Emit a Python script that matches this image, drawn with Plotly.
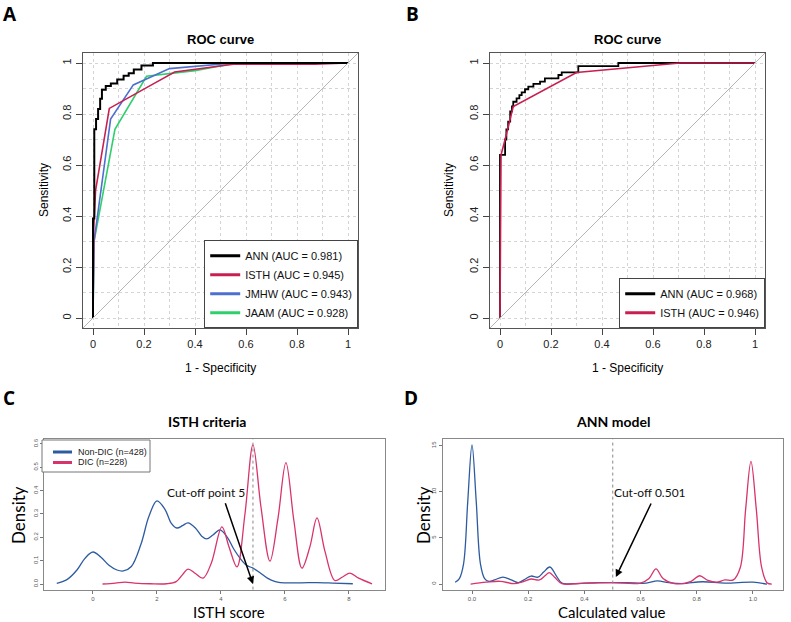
import plotly.graph_objects as go

W, H = 791, 622

# ---------------- Data ----------------
# Panel A: ROC curves (1 - specificity, sensitivity)
ann_a_fpr = [0, 0, 0.005, 0.012, 0.02, 0.028, 0.035, 0.05, 0.07, 0.095, 0.12, 0.14, 0.16, 0.19, 0.235, 1.0]
ann_a_tpr = [0, 0.39, 0.74, 0.78, 0.82, 0.86, 0.895, 0.91, 0.92, 0.935, 0.95, 0.96, 0.975, 0.99, 1.0, 1.0]
isth_a_fpr = [0, 0.003, 0.01, 0.064, 0.24, 0.32, 0.55, 0.87, 1.0]
isth_a_tpr = [0, 0.35, 0.5, 0.822, 0.92, 0.965, 0.995, 0.995, 1.0]
jmhw_a_fpr = [0, 0.004, 0.069, 0.158, 0.30, 0.55, 1.0]
jmhw_a_tpr = [0, 0.3, 0.78, 0.914, 0.978, 1.0, 1.0]
jaam_a_fpr = [0, 0.004, 0.086, 0.21, 0.40, 0.55, 1.0]
jaam_a_tpr = [0, 0.3, 0.74, 0.948, 0.97, 0.998, 1.0]
legend_a = ["ANN (AUC = 0.981)", "ISTH (AUC = 0.945)", "JMHW (AUC = 0.943)", "JAAM (AUC = 0.928)"]

# Panel B: ROC curves
ann_b_fpr = [0, 0, 0.02, 0.025, 0.032, 0.04, 0.047, 0.052, 0.065, 0.076, 0.085, 0.098, 0.111,
             0.131, 0.157, 0.176, 0.229, 0.242, 0.307, 0.464, 1.0]
ann_b_tpr = [0, 0.64, 0.70, 0.74, 0.77, 0.81, 0.83, 0.848, 0.861, 0.874, 0.885, 0.897, 0.907,
             0.918, 0.927, 0.94, 0.953, 0.963, 0.988, 1.0, 1.0]
isth_b_fpr = [0, 0.004, 0.02, 0.035, 0.052, 0.30, 0.706, 1.0]
isth_b_tpr = [0, 0.64, 0.70, 0.76, 0.829, 0.963, 1.0, 1.0]
legend_b = ["ANN (AUC = 0.968)", "ISTH (AUC = 0.946)"]

# Panel C: density of ISTH score
c_non_x = [-1.13, -0.8, -0.5, -0.25, 0, 0.25, 0.5, 0.75, 0.95, 1.2, 1.5, 1.75, 2.0, 2.25, 2.45, 2.62,
           2.8, 2.97, 3.2, 3.4, 3.55, 3.75, 3.97, 4.2, 4.4, 4.6, 4.8, 5.0, 5.2, 5.45, 5.7, 5.85,
           6.5, 7.0, 7.5, 8.12]
c_non_y = [0.003, 0.02, 0.06, 0.11, 0.137, 0.115, 0.08, 0.06, 0.056, 0.075, 0.17, 0.29, 0.356, 0.32,
           0.26, 0.24, 0.25, 0.262, 0.24, 0.205, 0.193, 0.21, 0.232, 0.2, 0.15, 0.11, 0.08, 0.068,
           0.05, 0.025, 0.01, 0.006, 0.005, 0.006, 0.004, 0.001]
c_dic_x = [0.3, 0.7, 1.0, 1.3, 1.8, 2.3, 2.6, 2.8, 2.97, 3.2, 3.44, 3.7, 4.03, 4.25, 4.5, 4.75, 5.0,
           5.25, 5.53, 5.78, 6.03, 6.28, 6.53, 6.78, 7.0, 7.25, 7.56, 7.8, 8.03, 8.3, 8.72]
c_dic_y = [0.0, 0.004, 0.008, 0.004, 0.001, 0.001, 0.01, 0.04, 0.064, 0.045, 0.025, 0.09, 0.245, 0.16,
           0.073, 0.3, 0.596, 0.33, 0.098, 0.28, 0.52, 0.27, 0.068, 0.16, 0.283, 0.14, 0.015, 0.03,
           0.047, 0.025, 0.001]
legend_c = ["Non-DIC (n=428)", "DIC (n=228)"]

# Panel D: density of ANN calculated value
d_non_x = [-0.06, -0.045, -0.03, -0.015, 0, 0.015, 0.03, 0.045, 0.06, 0.08, 0.11, 0.14, 0.165, 0.19,
           0.21, 0.235, 0.255, 0.277, 0.3, 0.32, 0.36, 0.45, 0.55, 0.62, 0.66, 0.7, 0.75, 0.82, 0.9,
           1.0, 1.05]
d_non_y = [0.2, 0.6, 2.2, 9.0, 15.1, 9.0, 2.2, 0.6, 0.3, 0.45, 0.76, 0.45, 0.15, 0.55, 0.87, 0.75,
           1.3, 1.85, 0.9, 0.1, 0.05, 0.15, 0.15, 0.1, 0.35, 0.15, 0.05, 0.25, 0.1, 0.2, 0.0]
d_dic_x = [-0.005, 0.05, 0.1, 0.15, 0.18, 0.21, 0.24, 0.26, 0.275, 0.295, 0.32, 0.4, 0.5, 0.6, 0.63,
           0.655, 0.68, 0.72, 0.78, 0.81, 0.84, 0.87, 0.9, 0.93, 0.955, 0.974, 0.993, 1.012, 1.031,
           1.05, 1.067]
d_dic_y = [0.0, 0.2, 0.3, 0.05, 0.25, 0.55, 0.45, 0.9, 1.25, 0.7, 0.05, 0.1, 0.15, 0.1, 0.6, 1.65,
           0.6, 0.05, 0.3, 0.9, 0.4, 0.2, 0.45, 0.45, 1.8, 8.1, 13.3, 8.1, 1.8, 0.15, 0.0]

cutoff_c = 5
cutoff_d = 0.501

# ---------------- Styles ----------------
BLACK = "#000000"
RED_A = "#c81e50"
BLUE_A = "#4d6fd0"
GREEN_A = "#2fcf6b"
BLUE_C = "#2d5b9f"
RED_C = "#d8336a"
ARIAL = "Liberation Sans, Arial, sans-serif"
CAL = "Lato, Open Sans, sans-serif"


def X(p):
    return p / W


def Y(p):
    return 1 - p / H


fig = go.Figure()

# ---- Panel A ----
for fx, fy, col, wd, shp in [
    (jaam_a_fpr, jaam_a_tpr, GREEN_A, 1.6, "linear"),
    (jmhw_a_fpr, jmhw_a_tpr, BLUE_A, 1.6, "linear"),
    (isth_a_fpr, isth_a_tpr, RED_A, 1.6, "linear"),
    (ann_a_fpr, ann_a_tpr, BLACK, 2.0, "hv"),
]:
    fig.add_trace(go.Scatter(x=fx, y=fy, mode="lines", line=dict(color=col, width=wd, shape=shp),
                             showlegend=False, xaxis="x", yaxis="y", hoverinfo="skip"))
for name, col in zip(legend_a, [BLACK, RED_A, BLUE_A, GREEN_A]):
    fig.add_trace(go.Scatter(x=[None], y=[None], mode="lines", line=dict(color=col, width=3),
                             name=name, legend="legend", xaxis="x", yaxis="y"))

# ---- Panel B ----
fig.add_trace(go.Scatter(x=ann_b_fpr, y=ann_b_tpr, mode="lines", line=dict(color=BLACK, width=1.8, shape="hv"),
                         showlegend=False, xaxis="x2", yaxis="y2", hoverinfo="skip"))
fig.add_trace(go.Scatter(x=isth_b_fpr, y=isth_b_tpr, mode="lines", line=dict(color=RED_A, width=1.6),
                         showlegend=False, xaxis="x2", yaxis="y2", hoverinfo="skip"))
for name, col in zip(legend_b, [BLACK, RED_A]):
    fig.add_trace(go.Scatter(x=[None], y=[None], mode="lines", line=dict(color=col, width=3),
                             name=name, legend="legend2", xaxis="x2", yaxis="y2"))

# ---- Panel C ----
fig.add_trace(go.Scatter(x=c_non_x, y=c_non_y, mode="lines", name=legend_c[0],
                         line=dict(color=BLUE_C, width=1.3, shape="spline", smoothing=1),
                         showlegend=False, xaxis="x3", yaxis="y3", hoverinfo="skip"))
fig.add_trace(go.Scatter(x=c_dic_x, y=c_dic_y, mode="lines", name=legend_c[1],
                         line=dict(color=RED_C, width=1.3, shape="spline", smoothing=1),
                         showlegend=False, xaxis="x3", yaxis="y3", hoverinfo="skip"))

# ---- Panel D ----
fig.add_trace(go.Scatter(x=d_non_x, y=d_non_y, mode="lines", line=dict(color=BLUE_C, width=1.3, shape="spline", smoothing=1),
                         showlegend=False, xaxis="x4", yaxis="y4", hoverinfo="skip"))
fig.add_trace(go.Scatter(x=d_dic_x, y=d_dic_y, mode="lines", line=dict(color=RED_C, width=1.3, shape="spline", smoothing=1),
                         showlegend=False, xaxis="x4", yaxis="y4", hoverinfo="skip"))

# ---------------- Axes ----------------
roc_common = dict(
    range=[-0.04, 1.04], tick0=0, dtick=0.2, ticks="outside", ticklen=6, tickcolor="#444",
    showline=True, mirror=True, linecolor="#555", linewidth=1,
    showgrid=True, gridcolor="#d4d4d4", griddash="dot", gridwidth=1,
    minor=dict(dtick=0.1, showgrid=True, gridcolor="#d4d4d4", griddash="dot", ticks=""),
    zeroline=False, tickfont=dict(family=ARIAL, size=11, color="#222"), fixedrange=True,
)
dens_common = dict(
    ticks="outside", ticklen=3, tickcolor="#777", showline=True, mirror=True, linecolor="#888",
    linewidth=1, showgrid=False, zeroline=False, tickfont=dict(family=ARIAL, size=6, color="#555"),
    fixedrange=True,
)

A_x = [82.8, 358.2]
B_x = [489.8, 765.2]
AB_y = [52.8, 328.2]
C_x = [44.3, 384.5]
D_x = [442.5, 783.0]
CD_y = [439.3, 589.6]

fig.update_layout(
    xaxis=dict(domain=[X(A_x[0]), X(A_x[1])], anchor="y", **roc_common),
    yaxis=dict(domain=[Y(AB_y[1]), Y(AB_y[0])], anchor="x", tickangle=-90, **roc_common),
    xaxis2=dict(domain=[X(B_x[0]), X(B_x[1])], anchor="y2", **roc_common),
    yaxis2=dict(domain=[Y(AB_y[1]), Y(AB_y[0])], anchor="x2", tickangle=-90, **roc_common),
    xaxis3=dict(domain=[X(C_x[0]), X(C_x[1])], anchor="y3", range=[-1.52, 9.11], tick0=0, dtick=2, **dens_common),
    yaxis3=dict(domain=[Y(CD_y[1]), Y(CD_y[0])], anchor="x3", range=[-0.024, 0.62], tick0=0, dtick=0.1,
                tickformat=".1f", tickangle=-90, **dens_common),
    xaxis4=dict(domain=[X(D_x[0]), X(D_x[1])], anchor="y4", range=[-0.105, 1.107], tick0=0, dtick=0.2,
                tickformat=".1f", **dens_common),
    yaxis4=dict(domain=[Y(CD_y[1]), Y(CD_y[0])], anchor="x4", range=[-0.6, 15.7], tick0=0, dtick=5,
                tickangle=-90, **dens_common),
)

legend_style = dict(bgcolor="white", bordercolor="#444", borderwidth=1, itemwidth=30,
                    tracegroupgap=0, traceorder="normal", itemclick=False, itemdoubleclick=False)
fig.update_layout(
    legend=dict(x=X(358.2), xanchor="right", y=Y(328.2), yanchor="bottom",
                font=dict(family=ARIAL, size=11, color="#111"), **legend_style),
    legend2=dict(x=X(765.2), xanchor="right", y=Y(328.2), yanchor="bottom",
                 font=dict(family=ARIAL, size=11, color="#111"), **legend_style),
)

# ---------------- Shapes ----------------
shapes = [
    dict(type="line", xref="x", yref="y", x0=-0.04, y0=-0.04, x1=1.04, y1=1.04,
         line=dict(color="#b5b5b5", width=1)),
    dict(type="line", xref="x2", yref="y2", x0=-0.04, y0=-0.04, x1=1.04, y1=1.04,
         line=dict(color="#b5b5b5", width=1)),
    dict(type="line", xref="x3", yref="y3 domain", x0=cutoff_c, x1=cutoff_c, y0=0, y1=1,
         line=dict(color="#888", width=1, dash="dot")),
    dict(type="line", xref="x4", yref="y4 domain", x0=cutoff_d, x1=cutoff_d, y0=0, y1=1,
         line=dict(color="#888", width=1, dash="dot")),
    # legend box for panel C (drawn like R's legend())
    dict(type="rect", xref="paper", yref="paper", x0=X(42), x1=X(150), y0=Y(472), y1=Y(440),
         line=dict(color="#777", width=1), fillcolor="white", layer="above"),
]
for i, col in enumerate([BLUE_C, RED_C]):
    yy = 452 + i * 10.5
    shapes.append(dict(type="line", xref="paper", yref="paper", x0=X(53), x1=X(72), y0=Y(yy), y1=Y(yy),
                       line=dict(color=col, width=3), layer="above"))
fig.update_layout(shapes=shapes)

# ---------------- Annotations ----------------
ann = []


def text(x, y, s, size, family=ARIAL, bold=False, angle=0, color="#000", xanchor="center",
         yanchor="middle", pad=1):
    ann.append(dict(x=X(x), y=Y(y), xref="paper", yref="paper", text=("<b>%s</b>" % s) if bold else s,
                    showarrow=False, xanchor=xanchor, yanchor=yanchor, textangle=angle, borderpad=pad,
                    font=dict(family=family, size=size, color=color)))


# panel letters
for lx, ly, s in [(10, 14, "A"), (412, 14, "B"), (9, 398, "C"), (411, 398, "D")]:
    text(lx, ly, s, 19, family="Open Sans, Lato, sans-serif", bold=True)

# titles
text(220, 39, "ROC curve", 13, bold=True)
text(627, 39, "ROC curve", 13, bold=True)
text(207, 421, "ISTH criteria", 14, family=CAL, bold=True)
text(613, 421, "ANN model", 14, family=CAL, bold=True)

# axis titles
text(44, 190, "Sensitivity", 12, angle=-90)
text(449, 190, "Sensitivity", 12, angle=-90)
text(220, 368, "1 - Specificity", 12)
text(627, 368, "1 - Specificity", 12)
text(18, 515, "Density", 17, family=CAL, angle=-90)
text(423, 515, "Density", 17, family=CAL, angle=-90)
text(229, 622, "ISTH score", 15, family=CAL, yanchor="bottom", pad=0)
text(612, 622, "Calculated value", 15, family=CAL, yanchor="bottom", pad=0)

# legend texts for panel C
for i, s in enumerate(legend_c):
    text(76, 452 + i * 10.5, s, 9, color="#222", xanchor="left")

# cut-off labels
ann.append(dict(x=3.53, y=0.39, xref="x3", yref="y3", text="Cut-off point 5", showarrow=False,
                font=dict(family=CAL, size=12, color="#111")))
ann.append(dict(x=cutoff_c, y=0.0, xref="x3", yref="y3", ax=4.12, ay=0.352, axref="x3", ayref="y3",
                text="", showarrow=True, arrowhead=2, arrowsize=1, arrowwidth=1.5, arrowcolor="#000"))
ann.append(dict(x=0.633, y=9.9, xref="x4", yref="y4", text="Cut-off 0.501", showarrow=False,
                font=dict(family=CAL, size=12, color="#111")))
ann.append(dict(x=0.512, y=0.76, xref="x4", yref="y4", ax=0.64, ay=8.9, axref="x4", ayref="y4",
                text="", showarrow=True, arrowhead=2, arrowsize=1, arrowwidth=1.5, arrowcolor="#000"))

fig.update_layout(annotations=ann)

fig.update_layout(
    width=W, height=H, margin=dict(l=0, r=0, t=0, b=0),
    paper_bgcolor="white", plot_bgcolor="white",
    font=dict(family=ARIAL, color="#000"),
    hovermode=False,
)

fig.write_html("out.html", config={"displayModeBar": False},
               post_script="document.body.style.margin='0';document.body.style.overflow='hidden';")
